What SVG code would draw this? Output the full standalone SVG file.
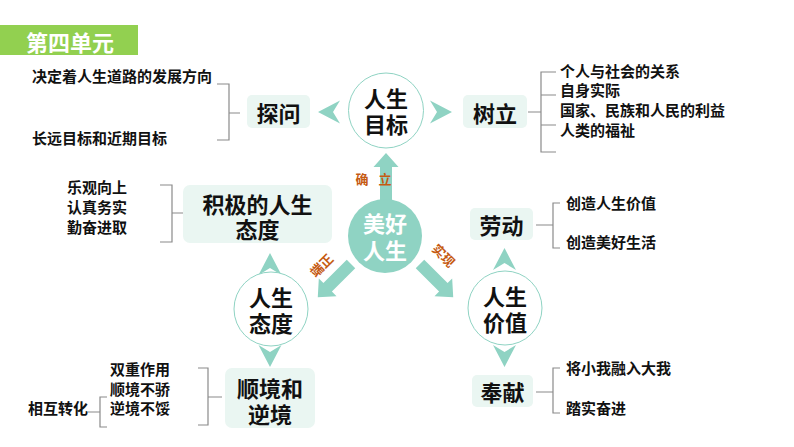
<svg xmlns="http://www.w3.org/2000/svg" width="794" height="447" viewBox="0 0 794 447">
<style>
text{font-family:"Noto Sans CJK SC","Noto Sans",sans-serif;font-weight:bold;dominant-baseline:central}
.s{font-size:15px;fill:#111}
.b{font-size:22px;fill:#111;text-anchor:middle}
.w{font-size:22px;fill:#fff;text-anchor:middle}
.o{font-size:13px;fill:#c55a11;text-anchor:middle}
.box{fill:#eaf6f2}
.cir{fill:#fff;stroke:#8fd3c3;stroke-width:1}
.br{fill:none;stroke:#8a8a8a;stroke-width:1.2}
.ar{fill:#8fd3c3}
</style>
<defs>
<polygon id="arr" points="0,-6 33,-6 33,-12.5 47,0 33,12.5 33,6 0,6"/>
<polygon id="chev" points="0,0 22,-11.5 15,0 22,11.5"/>
</defs>
<rect width="794" height="447" fill="#fff"/>
<g id="header">
<rect x="0" y="25" width="138" height="30" fill="#92d050"/>
<text x="70" y="41" class="w">第四单元</text>
</g>
<g id="connectors">
<g class="ar">
<use href="#arr" transform="translate(386,200) rotate(-90)"/>
<use href="#arr" transform="translate(351,264) rotate(135)"/>
<use href="#arr" transform="translate(420,264) rotate(45)"/>
<use href="#chev" transform="translate(318,112)"/>
<use href="#chev" transform="translate(452,112) rotate(180)"/>
<use href="#chev" transform="translate(270,253) rotate(90)"/>
<use href="#chev" transform="translate(270,367) rotate(-90)"/>
<use href="#chev" transform="translate(504.5,248) rotate(90)"/>
<use href="#chev" transform="translate(504.5,367) rotate(-90)"/>
</g>
<g class="br">
<path d="M217,84 H229 V140 H217 M229,113 H240"/>
<path d="M528,112 H541 M556,72 H541 V152 H556 M541,95 H556 M541,125 H556"/>
<path d="M160,185 H172 V242 H160 M172,213 H183"/>
<path d="M198,368 H208 V425 H198 M208,397 H222"/>
<path d="M107,397 H100 V427 H107 M88,412 H100"/>
<path d="M536,225 H553 M560,203 H553 V248 H560"/>
<path d="M536,392 H553 M560,368 H553 V413 H560"/>
</g>
<text x="362" y="178" class="o">确</text>
<text x="385" y="178" class="o">立</text>
<text x="0" y="0" class="o" transform="translate(321,265) rotate(-45)">端正</text>
<text x="0" y="0" class="o" transform="translate(444,255) rotate(45)">实现</text>
</g>
<g id="center">
<circle cx="385" cy="236" r="37" fill="#8fd3c3"/>
<text class="w"><tspan x="385" y="222">美好</tspan><tspan x="385" y="249">人生</tspan></text>
</g>
<g id="goal">
<circle cx="386" cy="110.5" r="37.5" class="cir"/>
<text class="b"><tspan x="386" y="97">人生</tspan><tspan x="386" y="123">目标</tspan></text>
</g>
<g id="tanwen">
<rect x="247" y="95" width="63" height="33" rx="5" class="box"/>
<text x="278.5" y="112" class="b">探问</text>
</g>
<g id="tanwen-notes">
<text x="32" y="75" class="s">决定着人生道路的发展方向</text>
<text x="32" y="137" class="s">长远目标和近期目标</text>
</g>
<g id="shuli">
<rect x="463" y="95" width="64" height="33" rx="5" class="box"/>
<text x="495" y="112" class="b">树立</text>
</g>
<g id="shuli-notes">
<text x="560" y="70" class="s">个人与社会的关系</text>
<text x="560" y="89" class="s">自身实际</text>
<text x="560" y="109" class="s">国家、民族和人民的利益</text>
<text x="560" y="129" class="s">人类的福祉</text>
</g>
<g id="jiji">
<rect x="183" y="185" width="149" height="58" rx="7" class="box"/>
<text class="b"><tspan x="257.5" y="203">积极的人生</tspan><tspan x="257.5" y="228">态度</tspan></text>
</g>
<g id="jiji-notes">
<text class="s"><tspan x="67" y="186">乐观向上</tspan><tspan x="67" y="206">认真务实</tspan><tspan x="67" y="226">勤奋进取</tspan></text>
</g>
<g id="taidu">
<circle cx="271" cy="309" r="37" class="cir"/>
<text class="b"><tspan x="271" y="296">人生</tspan><tspan x="271" y="322">态度</tspan></text>
</g>
<g id="shunjing">
<rect x="225" y="368" width="90" height="60" rx="7" class="box"/>
<text class="b"><tspan x="270" y="387">顺境和</tspan><tspan x="270" y="413">逆境</tspan></text>
</g>
<g id="shunjing-notes">
<text class="s"><tspan x="110" y="368">双重作用</tspan><tspan x="110" y="388">顺境不骄</tspan><tspan x="110" y="407">逆境不馁</tspan></text>
<text x="28" y="407" class="s">相互转化</text>
</g>
<g id="laodong">
<rect x="470" y="208" width="63" height="32" rx="5" class="box"/>
<text x="501.5" y="224" class="b">劳动</text>
</g>
<g id="laodong-notes">
<text x="566" y="202" class="s">创造人生价值</text>
<text x="566" y="241" class="s">创造美好生活</text>
</g>
<g id="jiazhi">
<circle cx="505" cy="308" r="37" class="cir"/>
<text class="b"><tspan x="505" y="295">人生</tspan><tspan x="505" y="321">价值</tspan></text>
</g>
<g id="fengxian">
<rect x="472" y="375" width="61" height="32" rx="5" class="box"/>
<text x="502.5" y="391" class="b">奉献</text>
</g>
<g id="fengxian-notes">
<text x="566" y="367" class="s">将小我融入大我</text>
<text x="566" y="407" class="s">踏实奋进</text>
</g>
</svg>
